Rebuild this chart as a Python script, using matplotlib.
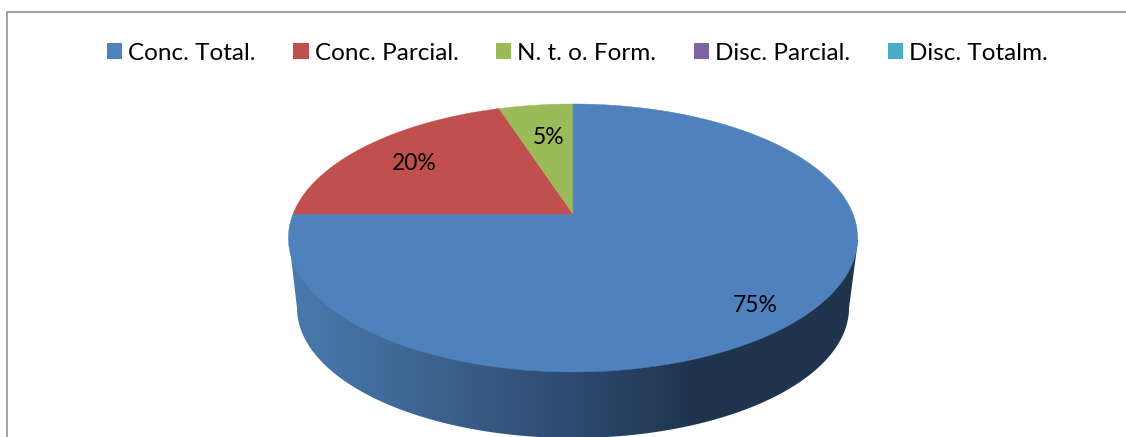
import matplotlib
matplotlib.use('Agg')
import matplotlib.pyplot as plt
import numpy as np
from matplotlib.colors import LinearSegmentedColormap
from matplotlib.lines import Line2D
from matplotlib.patches import Patch, Polygon
from matplotlib.transforms import Affine2D

plt.rcParams['font.family'] = ['Lato', 'DejaVu Sans']

categories = ['Conc. Total.', 'Conc. Parcial.', 'N. t. o. Form.', 'Disc. Parcial.', 'Disc. Totalm.']
values = [75, 20, 5, 0, 0]
colors = ['#4f81bd', '#c0504d', '#9bbb59', '#8064a2', '#4bacc6']

W, H = 1126, 437

# tip of the slices in pixels, and the tilt of the top face
cx, cy = 573, 214
a, b, k = 280, 129.7, 0.179


def tilt(xy):
    # unit circle -> tilted disc with perspective
    x, y = xy[:, 0], xy[:, 1]
    d = 1 + k * y
    return np.column_stack([cx + a * x / d, cy - b * y / d])


fig = plt.figure(figsize=(W / 100, H / 100), dpi=100)
ax = fig.add_axes([0, 0, 1, 1])

wedges, _, autotexts = ax.pie(values, colors=colors, startangle=90, counterclock=False,
                              autopct=lambda p: '%.0f%%' % p if p > 0.5 else '',
                              textprops={'fontsize': 16.5, 'color': 'black'})

# the side of the disc: rim of the top face + lower rim, with a left to right shade
t = np.radians(np.linspace(180, 360, 120))
lower = np.column_stack([573 + 276 * np.cos(t), 308 - 130 * np.sin(t)])
side = np.vstack([[[289, 240]], lower, [[858, 240]], [[573, 240]]])
shade = LinearSegmentedColormap.from_list('side', [(0, '#4a7aae'), (0.2, '#3f6896'), (0.5, '#2d4a70'),
                                                   (0.72, '#1f344d'), (1, '#1f344d')])
im = ax.imshow(np.linspace(0, 1, 256)[None, :], cmap=shade, extent=(289, 858, H, 200),
               aspect='auto', zorder=1)
side_patch = Polygon(side, closed=True, transform=ax.transData, fc='none', ec='none')
ax.add_patch(side_patch)
im.set_clip_path(side_patch)

# top face: take the slices from pie and push them through the tilt
big = Affine2D().scale(2000)  # to_polygons flattens curves by size, so scale up first
for w in wedges:
    path = w.get_patch_transform().transform_path(w.get_path())
    w.remove()
    for poly in path.transformed(big).to_polygons():
        if len(poly) > 3:
            ax.add_patch(Polygon(tilt(poly / 2000), closed=True, fc=w.get_facecolor(), ec=w.get_facecolor(),
                                 lw=0.3, zorder=2))

label_pos = [(755, 306), (414, 163.5), (549, 137.5)]
for txt, pos in zip(autotexts, label_pos):
    txt.set_position(pos)
    txt.set_zorder(3)

ax.set_aspect('auto')
ax.set_xlim(0, W)
ax.set_ylim(H, 0)
ax.axis('off')

# chart frame, cut by the picture on the right and at the bottom
fig.add_artist(Line2D([6.5 / W, 6.5 / W, 1], [0, 1 - 12 / H, 1 - 12 / H], color='#868686', lw=1.1))

handles = [Patch(facecolor=c, edgecolor='none') for c in colors]
fig.legend(handles, categories, ncol=5, loc='center', bbox_to_anchor=(577.5 / W, 1 - 53 / H),
           frameon=False, fontsize=17.5, handlelength=0.62, handleheight=0.62, handletextpad=0.25,
           columnspacing=1.55)

fig.savefig('out.png', dpi=100)
